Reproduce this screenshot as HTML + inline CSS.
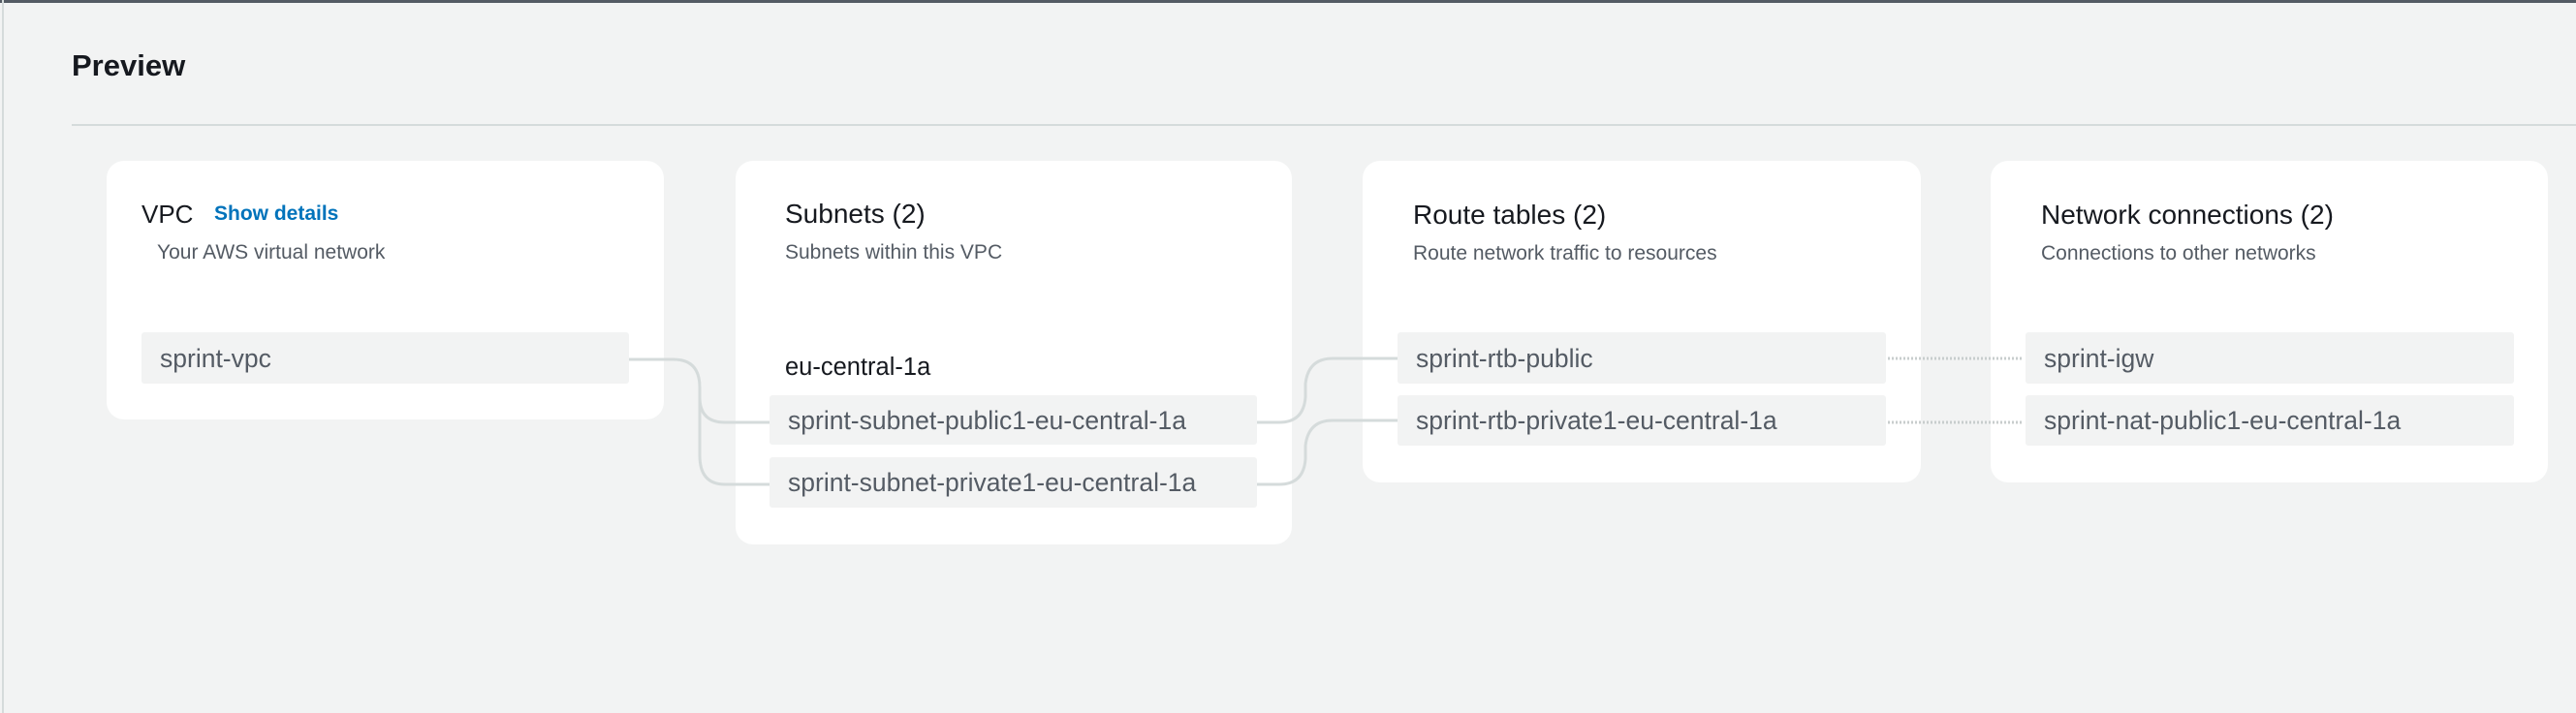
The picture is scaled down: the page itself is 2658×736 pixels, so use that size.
<!DOCTYPE html>
<html><head><meta charset="utf-8"><style>
*{margin:0;padding:0;box-sizing:border-box}
body{width:2658px;height:736px;background:#f2f3f3;font-family:"Liberation Sans",sans-serif;position:relative;overflow:hidden;color:#16191f}
.a{position:absolute}
.card{position:absolute;background:#fff;border-radius:18px}
.t{position:absolute;font-size:28px;color:#16191f;line-height:30px}
.d{position:absolute;font-size:21px;color:#545b64;line-height:26px}
.row{position:absolute;background:#f2f3f3;border-radius:3px;font-size:26.5px;color:#545b64;line-height:30px;padding-left:19px;display:flex;align-items:center;white-space:nowrap}
</style></head><body>
<div class="a" style="left:0;top:0;width:2658px;height:3px;background:#545b64"></div>
<div class="a" style="left:2px;top:0;width:2px;height:736px;background:#d5dbdb"></div>
<div class="a" style="left:74px;top:50px;font-size:31px;font-weight:bold;line-height:36px">Preview</div>
<div class="a" style="left:74px;top:128px;width:2584px;height:2px;background:#d5dbdb"></div>

<div class="card" style="left:110px;top:166px;width:575px;height:267px"></div>
<div class="card" style="left:759px;top:166px;width:574px;height:396px"></div>
<div class="card" style="left:1406px;top:166px;width:576px;height:332px"></div>
<div class="card" style="left:2054px;top:166px;width:575px;height:332px"></div>

<svg class="a" style="left:0;top:0" width="2658" height="736">
<g fill="none" stroke="#d5dbdb" stroke-width="3">
<path d="M649 371 H695 Q722 371 722 400 V410 Q722 436 748 436 H794"/>
<path d="M722 405 V470 Q722 500 748 500 H794"/>
<path d="M1297 436 H1320 Q1345 436 1347 410 V396 Q1350 370 1375 370 H1442"/>
<path d="M1297 500 H1320 Q1345 500 1347 474 V460 Q1350 434 1375 434 H1442"/>
</g>
<g stroke="#c8cdcd" stroke-width="3" stroke-dasharray="2 2">
<path d="M1948 370 H2088"/><path d="M1948 436 H2088"/>
</g>
</svg>

<div class="t" style="left:146px;top:206px;font-size:26px">VPC</div>
<div class="a" style="left:221px;top:208px;font-size:21px;font-weight:bold;color:#0073bb;line-height:26px">Show details</div>
<div class="d" style="left:162px;top:248px">Your AWS virtual network</div>
<div class="row" style="left:146px;top:343px;width:503px;height:53px">sprint-vpc</div>

<div class="t" style="left:810px;top:206px">Subnets (2)</div>
<div class="d" style="left:810px;top:248px">Subnets within this VPC</div>
<div class="a" style="left:810px;top:364px;font-size:25.5px;line-height:30px">eu-central-1a</div>
<div class="row" style="left:794px;top:408px;width:503px;height:51px">sprint-subnet-public1-eu-central-1a</div>
<div class="row" style="left:794px;top:472px;width:503px;height:52px">sprint-subnet-private1-eu-central-1a</div>

<div class="t" style="left:1458px;top:207px">Route tables (2)</div>
<div class="d" style="left:1458px;top:249px">Route network traffic to resources</div>
<div class="row" style="left:1442px;top:343px;width:504px;height:53px">sprint-rtb-public</div>
<div class="row" style="left:1442px;top:408px;width:504px;height:52px">sprint-rtb-private1-eu-central-1a</div>

<div class="t" style="left:2106px;top:207px">Network connections (2)</div>
<div class="d" style="left:2106px;top:249px">Connections to other networks</div>
<div class="row" style="left:2090px;top:343px;width:504px;height:53px">sprint-igw</div>
<div class="row" style="left:2090px;top:408px;width:504px;height:52px">sprint-nat-public1-eu-central-1a</div>
</body></html>
